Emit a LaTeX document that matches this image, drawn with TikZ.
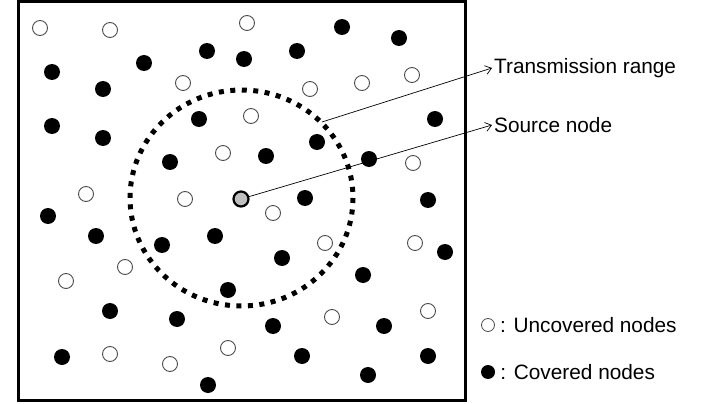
\documentclass[tikz,border=0pt]{standalone}
\usepackage{fontspec}
\setmainfont{Liberation Sans}
\usetikzlibrary{arrows.meta,positioning}

\begin{document}
\begin{tikzpicture}[x=1pt,y=-1pt,
	uncovered/.style={circle, draw=black!70, line width=0.9pt, fill=white, minimum size=15pt, inner sep=0pt},
	covered/.style={circle, fill=black, minimum size=16pt, inner sep=0pt},
	label text/.style={font=\fontsize{20.8}{24}\selectfont, inner sep=2pt, anchor=west},
	pointer/.style={line width=0.7pt, -{Straight Barb[length=6pt,width=9pt,line width=0.7pt]}}]
	\useasboundingbox (0,0) rectangle (707,404);
	\draw[line width=3pt] (18,2) rectangle (465,400);

	% transmission range
	\draw[line width=5pt, dash pattern=on 5pt off 6.5pt] (241.5,198) ellipse [x radius=111.5, y radius=108];

	\foreach \p [count=\i] in {(40,28),(110,30),(247,23),(183,83),(310,89),(362,83),(412,75),(251,116),(223,153),(413,163),(86,194),(185,199),(273,213),(325,243),(415,243),(125,267),(66,281),(332,317),(428,311),(110,354),(170,364),(228,348)}
		\node[uncovered] (u\i) at \p {};
	\foreach \p [count=\i] in {(52,72),(144,63),(207,51),(244,59),(297,51),(342,27),(399,38),(103,89),(52,126),(103,138),(199,119),(170,162),(266,156),(317,142),(369,159),(435,119),(305,198),(428,200),(48,216),(96,236),(162,245),(215,236),(282,258),(445,252),(363,275),(228,290),(110,311),(177,319),(273,326),(384,326),(62,357),(208,385),(302,356),(428,356),(368,375)}
		\node[covered] (c\i) at \p {};

	\node[circle, draw=black, line width=2.2pt, fill=black!25, minimum size=15pt, inner sep=0pt] (source) at (241,199) {};

	\coordinate (rangepoint) at (322,122);
	\node[label text] (rangelabel) at (492,68) {Transmission range};
	\node[label text] (sourcelabel) at (492,125) {Source node};
	\draw[pointer] (rangepoint) -- (rangelabel.west);
	\draw[pointer] (source) -- (sourcelabel.west);

	% legend
	\node[circle, draw=black!70, line width=0.8pt, minimum size=13pt, inner sep=0pt] (legopen) at (488,325) {};
	\node[label text, right=3pt of legopen] (legopentext) {: Uncovered nodes};
	\node[circle, fill=black, minimum size=14pt, inner sep=0pt] (legfull) at (488,372) {};
	\node[label text, right=3pt of legfull] (legfulltext) {: Covered nodes};
\end{tikzpicture}
\end{document}
